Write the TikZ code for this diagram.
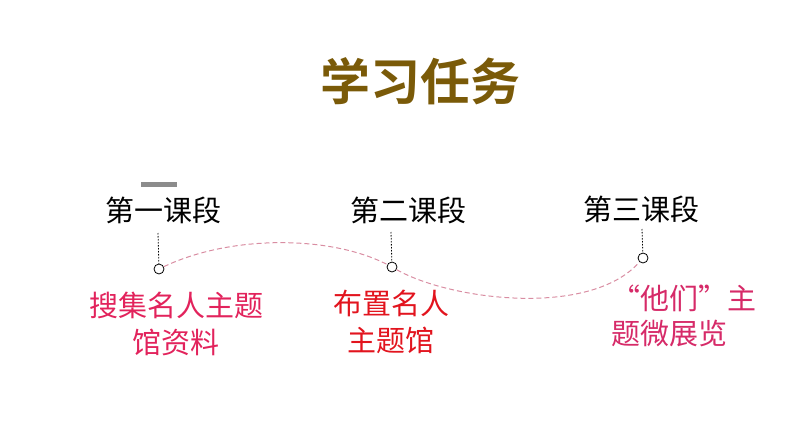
\documentclass[tikz,border=0pt]{standalone}
\usepackage{fontspec}
\setmainfont{Noto Sans CJK SC}
\newfontfamily\cjkbold{Noto Sans CJK SC Bold}
\definecolor{titlebrown}{HTML}{7A5A08}
\definecolor{redA}{HTML}{E2235C}
\definecolor{redB}{HTML}{E2141E}
\definecolor{redC}{HTML}{D62A68}
\definecolor{curvepink}{HTML}{D98DA2}
\tikzset{
  stagelabel/.style={font=\fontsize{29}{35}\selectfont, text=black, inner sep=0pt, anchor=center},
  tasklabel/.style={font=\fontsize{29}{37}\selectfont, inner sep=0pt, anchor=center, align=center},
  dotmark/.style={circle, draw=black, fill=white, line width=0.8pt, minimum size=10pt, inner sep=0pt},
  tick/.style={draw=black, line width=0.8pt, dash pattern=on 1.5pt off 1.5pt},
  wave/.style={draw=curvepink, line width=1pt, dash pattern=on 5pt off 3pt},
}
\begin{document}
\begin{tikzpicture}[x=1pt,y=-1pt]
\useasboundingbox (0,0) rectangle (794,447);
\node[font=\cjkbold\fontsize{50}{50}\selectfont, text=titlebrown, inner sep=0pt] (title) at (420,81) {学习任务};
\fill[gray!90] (141,182) rectangle (177,186.5);
\node[stagelabel] (s1) at (163.5,210) {第一课段};
\node[stagelabel] (s2) at (408,210) {第二课段};
\node[stagelabel] (s3) at (641.5,209) {第三课段};
\node[dotmark] (c1) at (159,269) {};
\node[dotmark] (c2) at (392,267) {};
\node[dotmark] (c3) at (643,258) {};
\coordinate (t1) at (158,233);
\coordinate (t2) at (391,232);
\coordinate (t3) at (642,229);
\draw[tick] (t1) -- (c1);
\draw[tick] (t2) -- (c2);
\draw[tick] (t3) -- (c3);
\draw[wave] (c1) .. controls (230,235) and (330,235) .. (c2);
\draw[wave] (c2) .. controls (450,300) and (590,318) .. (c3);
\node[tasklabel, text=redA] (k1) at (176,323.5) {搜集名人主题\\馆资料};
\node[tasklabel, text=redB] (k2) at (391,321.5) {布置名人\\主题馆};
\node[tasklabel, text=redC, align=left, font=\fontsize{29}{35}\selectfont] (k3) at (684,315.5) {“他们”主\\题微展览};
\end{tikzpicture}
\end{document}
